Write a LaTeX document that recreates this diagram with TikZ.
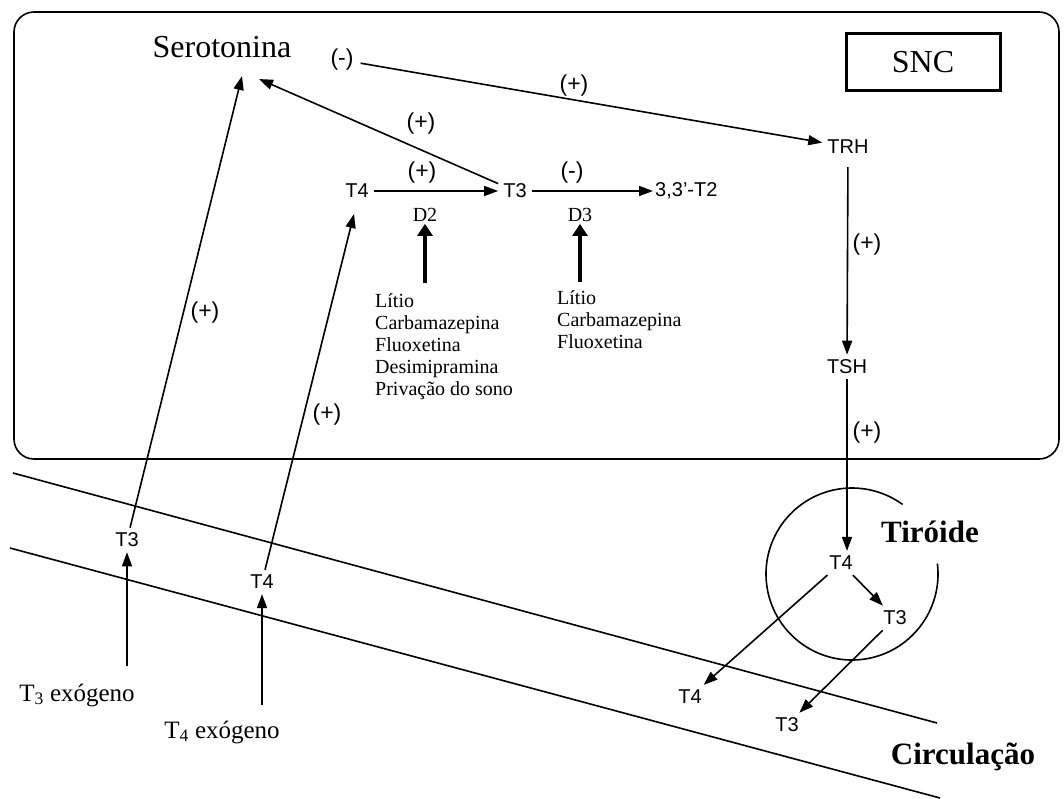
\documentclass[tikz,border=0pt]{standalone}
\usepackage{fontspec}
\setmainfont{Liberation Serif}
\setsansfont{Liberation Sans}
\usetikzlibrary{arrows.meta,positioning,calc}
\tikzset{
  lbl/.style ={font=\sffamily\fontsize{20}{22}\selectfont, inner sep=5pt},
  sgn/.style ={font=\sffamily\fontsize{23}{25}\selectfont, inner sep=1pt},
  ser/.style ={font=\fontsize{20}{22}\selectfont, inner sep=2pt},
  lst/.style ={ser, align=left, anchor=north west},
  big/.style ={font=\fontsize{32}{34}\selectfont, inner sep=0pt},
  hdr/.style ={font=\bfseries\fontsize{31}{33}\selectfont, inner sep=0pt},
  exo/.style ={font=\fontsize{25}{27}\selectfont, inner sep=2pt},
  ln/.style  ={line width=1.6pt},
  arr/.style ={ln, -{Triangle[length=14pt,width=10pt]}},
  thk/.style ={line width=4.5pt, -{Triangle[length=12pt,width=15pt]}},
}

\begin{document}
\begin{tikzpicture}[x=1pt,y=-1pt]
  \useasboundingbox (0,0) rectangle (1064,798);
  % compartments
  \draw[ln, rounded corners=20pt] (14,12) rectangle (1059,459);
  \node[big, draw, line width=3pt, minimum width=154pt, minimum height=57pt] (snc) at (923,62) {SNC};
  \draw[ln] (13,473) -- (937,723);
  \draw[ln] (10,548) -- (940,798);
  \draw[ln] (852,574) ++(-7:86) arc[start angle=-7, end angle=306, radius=86];
  \node[hdr] (thy) at (930,532) {Tiróide};
  \node[hdr] (circ) at (963,757) {Circulação};

  % central nervous system
  \node[big] (sero) at (222,47) {Serotonina};
  \coordinate (seroA) at (242,76);
  \coordinate (seroB) at (259,79);
  \node[sgn] (inh) at (342,60) {(-)};
  \node[lbl] (trh) at (848,147) {TRH};
  \node[lbl] (tsh) at (847,367) {TSH};
  \node[lbl] (t4c) at (357,191) {T4};
  \node[lbl] (t3c) at (515,191) {T3};
  \node[lbl, anchor=west, inner sep=2pt] (t2c) at (653,191) {3,3’-T2};
  \coordinate (t4in) at (354,214);
  \node[ser] (d2) at (425,215) {D2};
  \node[ser] (d3) at (580,215) {D3};
  \node[lst] (d2l) at (373,291) {Lítio\\Carbamazepina\\Fluoxetina\\Desimipramina\\Privação do sono};
  \node[lst] (d3l) at (555,288) {Lítio\\Carbamazepina\\Fluoxetina};

  % periphery
  \node[lbl] (t3l) at (127,540) {T3};
  \node[lbl] (t4l) at (262,582) {T4};
  \node[exo] (t3ex) at (77,695) {T\textsubscript{3} exógeno};
  \node[exo] (t4ex) at (222,732) {T\textsubscript{4} exógeno};
  \node[lbl] (t4t) at (841,563) {T4};
  \node[lbl] (t3t) at (895,618) {T3};
  \node[lbl] (t4b) at (690,697) {T4};
  \node[lbl] (t3b) at (787,725) {T3};

  % connectors
  \draw[arr, shorten <=6pt] (inh) -- (trh);
  \draw[arr] (t3c) -- (seroB);
  \draw[arr] (t4c) -- (t3c);
  \draw[arr] (t3c) -- (t2c);
  \draw[arr, shorten <=8pt] (trh) -- (tsh);
  \draw[arr] (tsh.south) -- (tsh.south |- t4t.north);
  \draw[arr] (t3l) -- (seroA);
  \draw[arr] (t4l) -- (t4in);
  \draw[thk, shorten <=8pt] (d2l.north -| d2.south) -- (d2.south);
  \draw[thk, shorten <=6pt] (d3l.north -| d3.south) -- (d3.south);
  \draw[arr, shorten <=15pt] (t3ex.north -| t3l) -- (t3l);
  \draw[arr, shorten <=13pt] (t4ex.north -| t4l) -- (t4l);
  \draw[arr] (t4t) -- (t3t);
  \draw[arr] (t4t) -- (t4b);
  \draw[arr] (t3t) -- (t3b);

  % effect signs
  \node[sgn] at (574,86) {(+)};
  \node[sgn] at (421,124) {(+)};
  \node[sgn] at (422,173) {(+)};
  \node[sgn] at (572,173) {(-)};
  \node[sgn] at (867,245) {(+)};
  \node[sgn] at (867,433) {(+)};
  \node[sgn] at (205,313) {(+)};
  \node[sgn] at (327,415) {(+)};
\end{tikzpicture}
\end{document}
